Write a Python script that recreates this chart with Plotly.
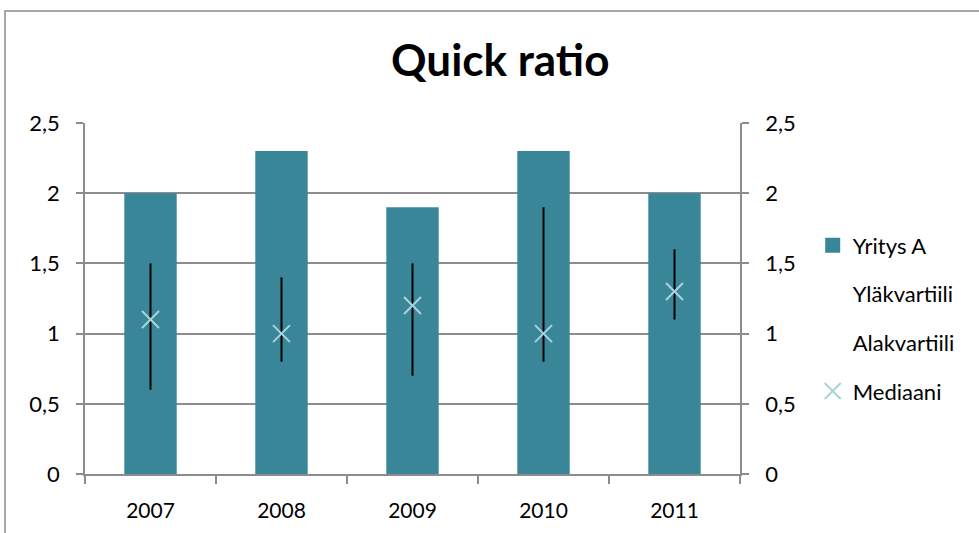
import plotly.graph_objects as go

# Quick ratio per year: company value, quartiles and median of the peer group
years = ["2007", "2008", "2009", "2010", "2011"]
yritys_a = [2.0, 2.3, 1.9, 2.3, 2.0]
ylakvartiili = [1.5, 1.4, 1.5, 1.9, 1.6]
alakvartiili = [0.6, 0.8, 0.7, 0.8, 1.1]
mediaani = [1.1, 1.0, 1.2, 1.0, 1.3]

FONT = "Lato"
BAR = "#3A8699"
GRID = "#8C8C8C"
MARK = "#A9D3DD"

fig = go.Figure()

fig.add_trace(go.Bar(
    x=years, y=yritys_a, name="Yritys A", width=0.4,
    marker=dict(color=BAR, line=dict(width=0)),
    showlegend=False,
))
# Legend key for the bars (larger square swatch)
fig.add_trace(go.Scatter(
    x=[None], y=[None], name="Yritys A", mode="markers",
    marker=dict(symbol="square", size=15, color=BAR),
    legendgroup="a",
))

# Quartile series: only their high-low line is visible
fig.add_trace(go.Scatter(
    x=years, y=ylakvartiili, name="Yläkvartiili", mode="lines",
    line=dict(width=0, color="rgba(0,0,0,0)"), legendgroup="b",
))
fig.add_trace(go.Scatter(
    x=years, y=alakvartiili, name="Alakvartiili", mode="lines",
    line=dict(width=0, color="rgba(0,0,0,0)"), legendgroup="c",
))

# High-low lines between lower and upper quartile
hl_x, hl_y = [], []
for yr, lo, hi in zip(years, alakvartiili, ylakvartiili):
    hl_x += [yr, yr, None]
    hl_y += [lo, hi, None]
fig.add_trace(go.Scatter(
    x=hl_x, y=hl_y, mode="lines", line=dict(color="black", width=2),
    showlegend=False, hoverinfo="skip",
))

fig.add_trace(go.Scatter(
    x=years, y=mediaani, name="Mediaani", mode="markers",
    marker=dict(symbol="x-thin", size=17, line=dict(color=MARK, width=2)),
    legendgroup="d",
))

# Invisible trace to carry the secondary (right) axis
fig.add_trace(go.Scatter(
    x=years, y=yritys_a, yaxis="y2", mode="markers",
    marker=dict(opacity=0), showlegend=False, hoverinfo="skip",
))

yax = dict(
    range=[0, 2.5], dtick=0.5, tick0=0,
    showline=True, linecolor=GRID, linewidth=1.5,
    ticks="outside", ticklen=7, tickcolor=GRID, tickwidth=1.5,
    tickfont=dict(family=FONT, size=22, color="black"),
    zeroline=False, fixedrange=True,
)

fig.update_layout(
    width=979, height=533,
    margin=dict(l=85, r=239, t=123, b=59),
    paper_bgcolor="white", plot_bgcolor="white",
    separators=", ",
    font=dict(family=FONT, color="black"),
    title=dict(
        text="<b>Quick ratio</b>", x=0.511, xref="container", xanchor="center",
        y=1 - 61 / 533, yref="container", yanchor="middle",
        font=dict(family=FONT, size=44, color="black"),
    ),
    xaxis=dict(
        type="category", showline=True, linecolor=GRID, linewidth=1.5,
        ticks="outside", tickson="boundaries", ticklen=8, tickcolor=GRID, tickwidth=1.5,
        tickfont=dict(family=FONT, size=21, color="black"),
        ticklabelstandoff=17, showgrid=False,
    ),
    yaxis=dict(**yax, showgrid=True, gridcolor=GRID, gridwidth=1.5,
               ticklabelstandoff=12),
    yaxis2=dict(**yax, overlaying="y", side="right", showgrid=False,
                ticklabelstandoff=12),
    bargap=0.6,
    legend=dict(
        x=1.111, xanchor="left", y=0.711, yanchor="top",
        font=dict(family=FONT, size=22, color="black"),
        traceorder="grouped", tracegroupgap=17,
        bgcolor="rgba(0,0,0,0)",
    ),
    shapes=[dict(
        type="rect", xref="paper", yref="paper",
        x0=(5 - 85) / 655, x1=1.6, y0=-0.5, y1=(474 - 11) / 351,
        line=dict(color="#8C8C8C", width=1.5), fillcolor="rgba(0,0,0,0)",
        layer="below",
    )],
)

fig.write_html("out.html")
